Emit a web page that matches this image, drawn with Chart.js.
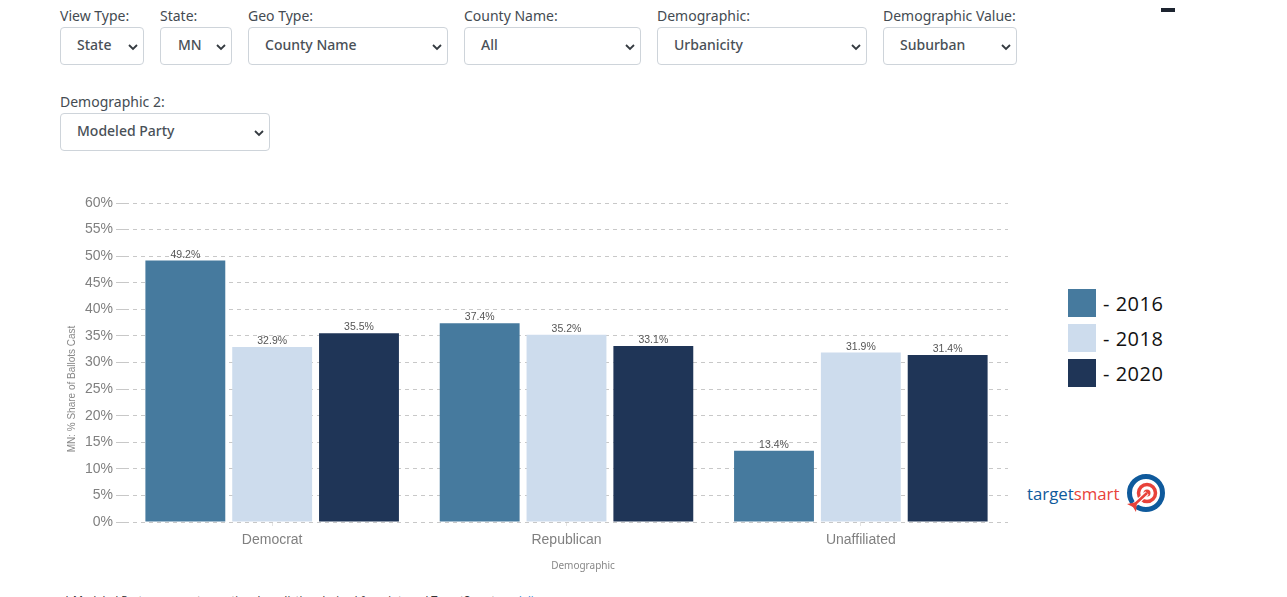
<!DOCTYPE html>
<html>
<head>
<meta charset="utf-8">
<script src="https://cdn.jsdelivr.net/npm/chart.js"></script>
<style>
    html, body { margin: 0; padding: 0; background: #fff; }
    body { width: 1287px; height: 597px; overflow: hidden; position: relative; font-family: "Noto Sans", sans-serif; color: #495057; }
    .field { position: absolute; }
    .field label { position: absolute; left: 0; top: 0; font-size: 14px; line-height: 18px; white-space: nowrap; color: #444b52; }
    .field .box { position: absolute; left: 0; top: 20px; right: 0; height: 36px; border: 1px solid #ced4da; border-radius: 4px; background: #fff; box-sizing: content-box; }
    .field .val { position: absolute; top: 7px; font-size: 14px; line-height: 20px; font-weight: 500; white-space: nowrap; }
    .field svg { position: absolute; top: 15px; right: 5px; }
    #chart-wrap { position: absolute; left: 60px; top: 190px; width: 960px; height: 390px; }
    #legend { position: absolute; left: 1068px; top: 289px; }
    .legend-row { position: absolute; left: 0; width: 120px; height: 28px; }
    .legend-row i { position: absolute; left: 0; top: 0; width: 28px; height: 28px; }
    .legend-row span { position: absolute; left: 35px; top: 1px; font: 20px/28px "Open Sans", sans-serif; letter-spacing: 0.5px; color: #111; white-space: nowrap; }
    #dash { position: absolute; left: 1161px; top: 8px; width: 14px; height: 4px; background: #1d2430; }
    #logo-text { position: absolute; left: 1027px; top: 483px; font: 16.8px/22px "Open Sans", sans-serif; white-space: nowrap; color: #0f5a9c; }
    #logo-text b { font-weight: 400; color: #e8423a; }
    #logo { position: absolute; left: 1125px; top: 473px; }
    #note { position: absolute; left: 64px; top: 592px; font-size: 11px; line-height: 16px; color: #333; white-space: nowrap; }
    #note a { color: #2a8bd8; }
</style>
</head>
<body>
<div id="filters"></div>
<div id="dash"></div>
<div id="chart-wrap"><canvas id="chart"></canvas></div>
<div id="legend"></div>
<div id="logo-text">target<b>smart</b></div>
<svg id="logo" width="42" height="42" viewBox="0 0 42 42">
    <circle cx="21" cy="20" r="16.5" fill="#fff" stroke="#0f5a9c" stroke-width="5"/>
    <circle cx="22" cy="20" r="8.5" fill="#fff" stroke="#e8423a" stroke-width="3.5"/>
    <circle cx="22" cy="20" r="3.5" fill="#e8423a"/>
    <path d="M22 20 L8 33" stroke="#fff" stroke-width="5"/>
    <path d="M22 20 L8 33" stroke="#e8423a" stroke-width="2.5"/>
    <path d="M2 31 L12 29 L11 39 L8 34 Z" fill="#e8423a"/>
</svg>
<div id="note">* Modeled Party represents a national prediction derived from internal TargetSmart <a>modeling</a></div>

<script>
// Chart data
const categories = ['Democrat', 'Republican', 'Unaffiliated'];
const years = ['2016', '2018', '2020'];
const values2016 = [49.2, 37.4, 13.4];
const values2018 = [32.9, 35.2, 31.9];
const values2020 = [35.5, 33.1, 31.4];
const yearColors = ['#467a9e', '#cddced', '#1f3557'];
const yTicks = [0, 5, 10, 15, 20, 25, 30, 35, 40, 45, 50, 55, 60];

// Filter dropdowns above the chart
const filterLabels = ['View Type:', 'State:', 'Geo Type:', 'County Name:', 'Demographic:', 'Demographic Value:', 'Demographic 2:'];
const filterValues = ['State', 'MN', 'County Name', 'All', 'Urbanicity', 'Suburban', 'Modeled Party'];
const filterLefts = [60, 160, 248, 464, 657, 883, 60];
const filterWidths = [84, 72, 200, 177, 210, 134, 210];
const filterTops = [7, 7, 7, 7, 7, 7, 93];
const filterPads = [16, 17, 16, 16, 16, 16, 16];

const filters = document.getElementById('filters');
filterLabels.forEach((label, i) => {
    const el = document.createElement('div');
    el.className = 'field';
    el.style.cssText = `left:${filterLefts[i]}px;top:${filterTops[i]}px;width:${filterWidths[i]}px;height:58px;`;
    el.innerHTML = `
        <label>${label}</label>
        <div class="box">
            <span class="val" style="left:${filterPads[i]}px">${filterValues[i]}</span>
            <svg width="10" height="8" viewBox="0 0 10 8"><path d="M1 2 L5 6 L9 2" fill="none" stroke="#343a40" stroke-width="1.8"/></svg>
        </div>`;
    filters.appendChild(el);
});

// Legend
const legend = document.getElementById('legend');
years.forEach((year, i) => {
    const row = document.createElement('div');
    row.className = 'legend-row';
    row.style.top = (i * 35) + 'px';
    row.innerHTML = `<i style="background:${yearColors[i]}"></i><span>- ${year}</span>`;
    legend.appendChild(row);
});

// Value labels above the bars and the two off-centre axis titles
const barLabels = {
    id: 'barLabels',
    afterDatasetsDraw(chart) {
        const ctx = chart.ctx;
        ctx.save();
        ctx.font = '10.5px "Liberation Sans", Arial, sans-serif';
        ctx.fillStyle = '#555';
        ctx.textAlign = 'center';
        ctx.textBaseline = 'bottom';
        chart.data.datasets.forEach((ds, d) => {
            chart.getDatasetMeta(d).data.forEach((bar, i) => {
                ctx.fillText(ds.data[i].toFixed(1) + '%', bar.x, bar.y - 0.5);
            });
        });
        ctx.fillStyle = '#888';
        ctx.font = '10px "Noto Sans", sans-serif';
        ctx.fillText('Demographic', 523, 381);
        ctx.font = '10px "Liberation Sans", Arial, sans-serif';
        ctx.translate(12, 199);
        ctx.rotate(-Math.PI / 2);
        ctx.textBaseline = 'middle';
        ctx.fillText('MN: % Share of Ballots Cast', 0, 0);
        ctx.restore();
    }
};

new Chart(document.getElementById('chart'), {
    type: 'bar',
    data: {
        labels: categories,
        datasets: [values2016, values2018, values2020].map((data, i) => ({
            label: years[i],
            data,
            backgroundColor: yearColors[i],
            categoryPercentage: 0.885,
            barPercentage: 0.92
        }))
    },
    options: {
        responsive: true,
        maintainAspectRatio: false,
        animation: false,
        layout: { padding: { top: 13, right: 12, left: 0, bottom: 0 } },
        plugins: { legend: { display: false }, tooltip: { enabled: false } },
        scales: {
            x: {
                afterFit: (axis) => { axis.height = 58; },
                border: { display: false },
                grid: { drawOnChartArea: false, offset: false, color: '#e2e2e2', tickLength: 4 },
                ticks: { color: '#808080', font: { family: '"Liberation Sans", Arial, sans-serif', size: 14 }, padding: 6 }
            },
            y: {
                min: 0,
                max: 60,
                afterFit: (axis) => { axis.width = 65; },
                afterBuildTicks: (axis) => { axis.ticks = yTicks.map(value => ({ value })); },
                border: { display: false, dash: [4, 4] },
                grid: { color: '#c8c8c8', tickLength: 9 },
                ticks: {
                    color: '#808080',
                    padding: 3,
                    font: { family: '"Liberation Sans", Arial, sans-serif', size: 14 },
                    callback: (value) => value + '%'
                }
            }
        }
    },
    plugins: [barLabels]
});
</script>
</body>
</html>
